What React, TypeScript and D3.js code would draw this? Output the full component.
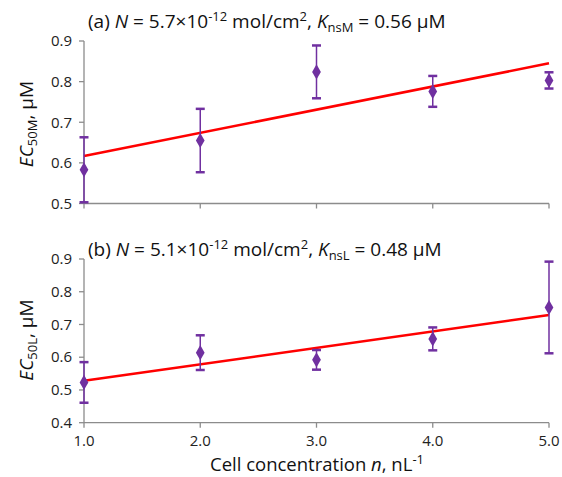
import React from "react";
import * as d3 from "d3";

const cellConc = [1, 2, 3, 4, 5];
const ec50M = [0.583, 0.655, 0.824, 0.776, 0.803];
const ec50MErr = [0.08, 0.078, 0.065, 0.038, 0.02];
const fitM = [0.617, 0.845]; // at n=1 and n=5
const ec50L = [0.523, 0.614, 0.592, 0.656, 0.752];
const ec50LErr = [0.062, 0.053, 0.03, 0.035, 0.14];
const fitL = [0.528, 0.729];
const xTicks = [1, 2, 3, 4, 5];
const yTicksTop = [0.5, 0.6, 0.7, 0.8, 0.9];
const yTicksBottom = [0.4, 0.5, 0.6, 0.7, 0.8, 0.9];

const W = 562, H = 477;
const FONT = "'Open Sans', 'Noto Sans', sans-serif";
const PURPLE = "#7030A0";
const AXIS = "#8c8c8c";

function Panel({ y, vals, errs, fit, ticks, yMin }: any) {
  const x = d3.scaleLinear().domain([1, 5]).range([84, 549]);
  const diamond = d3.symbol().type(d3.symbolDiamond).size(66)();
  const line = d3.line<[number, number]>().x(d => x(d[0])).y(d => y(d[1]));
  const [r0, r1] = y.range();
  return (
    <g>
      <line x1={84} x2={84} y1={r0} y2={r1} stroke={AXIS} strokeWidth={1.3} />
      {ticks.map((t: number) => (
        <g key={t}>
          <line x1={79} x2={84} y1={y(t)} y2={y(t)} stroke={AXIS} strokeWidth={1.3} />
          <text x={72} y={y(t)} dy="0.35em" textAnchor="end" fontSize={15} fontFamily={FONT} fill="#222">
            {t.toFixed(1)}
          </text>
        </g>
      ))}
      <line x1={84} x2={549} y1={y(yMin)} y2={y(yMin)} stroke={AXIS} strokeWidth={1.3} />
      {xTicks.map(t => (
        <line key={t} x1={x(t)} x2={x(t)} y1={y(yMin)} y2={y(yMin) + 5} stroke={AXIS} strokeWidth={1.3} />
      ))}
      <path d={line([[1, fit[0]], [5, fit[1]]]) || ""} stroke="#ff0000" strokeWidth={2.6} fill="none" />
      {cellConc.map((c, i) => {
        const lo = Math.max(vals[i] - errs[i], yMin);
        const hi = vals[i] + errs[i];
        return (
          <g key={c}>
            <line x1={x(c)} x2={x(c)} y1={y(lo)} y2={y(hi)} stroke={PURPLE} strokeWidth={1.5} />
            <line x1={x(c) - 4.5} x2={x(c) + 4.5} y1={y(lo)} y2={y(lo)} stroke={PURPLE} strokeWidth={2.5} />
            <line x1={x(c) - 4.5} x2={x(c) + 4.5} y1={y(hi)} y2={y(hi)} stroke={PURPLE} strokeWidth={2.5} />
            <path d={diamond || ""} transform={`translate(${x(c)},${y(vals[i])})`} fill={PURPLE} />
          </g>
        );
      })}
    </g>
  );
}

export default function App() {
  const yTop = d3.scaleLinear().domain([0.5, 0.9]).range([203.5, 41]);
  const yBot = d3.scaleLinear().domain([0.4, 0.9]).range([422.7, 259]);
  const x = d3.scaleLinear().domain([1, 5]).range([84, 549]);
  return (
    <svg width={W} height={H} style={{ position: "absolute", left: 0, top: 0, background: "#fff" }}>
      <rect width={W} height={H} fill="#fff" />
      <Panel y={yTop} vals={ec50M} errs={ec50MErr} fit={fitM} ticks={yTicksTop} yMin={0.5} />
      <Panel y={yBot} vals={ec50L} errs={ec50LErr} fit={fitL} ticks={yTicksBottom} yMin={0.4} />
      {xTicks.map(t => (
        <text key={t} x={x(t)} y={446} textAnchor="middle" fontSize={15} fontFamily={FONT} fill="#222">
          {t.toFixed(1)}
        </text>
      ))}
      <text x={88} y={28} fontSize={19} fontFamily={FONT} fill="#111">
        (a) <tspan fontStyle="italic">N</tspan> = 5.7×10
        <tspan fontSize={13} dy={-7}>-12</tspan>
        <tspan dy={7}> mol/cm</tspan>
        <tspan fontSize={13} dy={-7}>2</tspan>
        <tspan dy={7}>, </tspan>
        <tspan fontStyle="italic">K</tspan>
        <tspan fontSize={13} dy={4}>nsM</tspan>
        <tspan dy={-4}> = 0.56 μM</tspan>
      </text>
      <text x={88} y={256} fontSize={19} fontFamily={FONT} fill="#111">
        (b) <tspan fontStyle="italic">N</tspan> = 5.1×10
        <tspan fontSize={13} dy={-7}>-12</tspan>
        <tspan dy={7}> mol/cm</tspan>
        <tspan fontSize={13} dy={-7}>2</tspan>
        <tspan dy={7}>, </tspan>
        <tspan fontStyle="italic">K</tspan>
        <tspan fontSize={13} dy={4}>nsL</tspan>
        <tspan dy={-4}> = 0.48 μM</tspan>
      </text>
      <text transform="translate(33,124) rotate(-90)" textAnchor="middle" fontSize={19} fontFamily={FONT} fill="#111">
        <tspan fontStyle="italic">EC</tspan>
        <tspan fontSize={13} dy={4}>50M</tspan>
        <tspan dy={-4}>, μM</tspan>
      </text>
      <text transform="translate(33,340) rotate(-90)" textAnchor="middle" fontSize={19} fontFamily={FONT} fill="#111">
        <tspan fontStyle="italic">EC</tspan>
        <tspan fontSize={13} dy={4}>50L</tspan>
        <tspan dy={-4}>, μM</tspan>
      </text>
      <text x={317} y={471} textAnchor="middle" fontSize={18.5} fontFamily={FONT} fill="#111">
        Cell concentration <tspan fontStyle="italic">n</tspan>, nL
        <tspan fontSize={13} dy={-7}>-1</tspan>
      </text>
    </svg>
  );
}
